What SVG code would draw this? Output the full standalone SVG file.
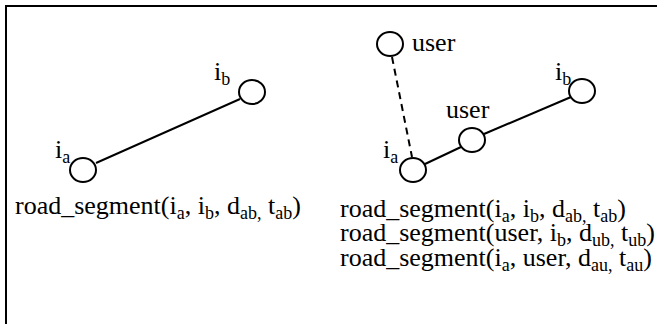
<svg xmlns="http://www.w3.org/2000/svg" width="657" height="324" viewBox="0 0 657 324">
<style>
.node{fill:#fff;stroke:#000;stroke-width:2}
.edge{stroke:#000;stroke-width:2;fill:none}
.dash{stroke-dasharray:7,5}
.t{font-family:'Liberation Serif',serif;font-size:26px;fill:#000}
.s{font-size:18px}
</style>
<rect x="6" y="6" width="670" height="340" fill="#fff" stroke="#000" stroke-width="2"/>
<g id="connectors">
<line class="edge" x1="96" y1="163" x2="240" y2="99"/>
<line class="edge dash" x1="392" y1="57" x2="412" y2="157"/>
<line class="edge" x1="425" y1="164" x2="461" y2="147"/>
<line class="edge" x1="484" y1="134" x2="571" y2="97"/>
</g>
<g class="t">
<g id="left_ia">
<ellipse class="node" cx="83" cy="170" rx="13" ry="12"/>
<text x="55" y="158">i<tspan class="s" dy="5">a</tspan></text>
</g>
<g id="left_ib">
<ellipse class="node" cx="252" cy="92" rx="13" ry="12"/>
<text x="214" y="80">i<tspan class="s" dy="5">b</tspan></text>
</g>
<g id="left_label">
<text x="15" y="214">road_segment(i<tspan class="s" dy="5">a</tspan><tspan dy="-5">, i</tspan><tspan class="s" dy="5">b</tspan><tspan dy="-5">, d</tspan><tspan class="s" dy="5">ab,</tspan><tspan dy="-5"> t</tspan><tspan class="s" dy="5">ab</tspan><tspan dy="-5">)</tspan></text>
</g>
<g id="right_user_top">
<ellipse class="node" cx="390" cy="44" rx="13" ry="12"/>
<text x="412" y="51">user</text>
</g>
<g id="right_ia">
<ellipse class="node" cx="413" cy="170" rx="13" ry="12"/>
<text x="383" y="158">i<tspan class="s" dy="5">a</tspan></text>
</g>
<g id="right_user_mid">
<ellipse class="node" cx="472" cy="140" rx="13" ry="12"/>
<text x="446" y="118">user</text>
</g>
<g id="right_ib">
<ellipse class="node" cx="582" cy="91" rx="13" ry="12"/>
<text x="555" y="80">i<tspan class="s" dy="5">b</tspan></text>
</g>
<g id="right_labels">
<text x="340" y="217">road_segment(i<tspan class="s" dy="5">a</tspan><tspan dy="-5">, i</tspan><tspan class="s" dy="5">b</tspan><tspan dy="-5">, d</tspan><tspan class="s" dy="5">ab,</tspan><tspan dy="-5"> t</tspan><tspan class="s" dy="5">ab</tspan><tspan dy="-5">)</tspan></text>
<text x="340" y="241">road_segment(user, i<tspan class="s" dy="5">b</tspan><tspan dy="-5">, d</tspan><tspan class="s" dy="5">ub,</tspan><tspan dy="-5"> t</tspan><tspan class="s" dy="5">ub</tspan><tspan dy="-5">)</tspan></text>
<text x="340" y="266">road_segment(i<tspan class="s" dy="5">a</tspan><tspan dy="-5">, user, d</tspan><tspan class="s" dy="5">au,</tspan><tspan dy="-5"> t</tspan><tspan class="s" dy="5">au</tspan><tspan dy="-5">)</tspan></text>
</g>
</g>
</svg>
